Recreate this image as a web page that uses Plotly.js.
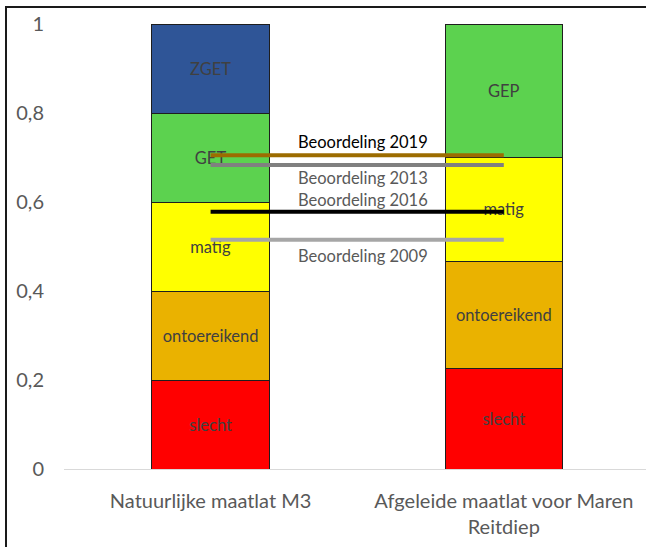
<!DOCTYPE html>
<html>
<head>
<meta charset="utf-8">
<script src="https://cdn.plot.ly/plotly-3.0.1.min.js"></script>
<style>html,body{margin:0;padding:0;background:#fff;}#chart{width:646px;height:547px;}</style>
</head>
<body>
<div id="chart"></div>
<script>
// Categories (x axis)
const categories = ["Natuurlijke maatlat M3", "Afgeleide maatlat voor Maren<br>Reitdiep"];

// Stacked class widths per category
const slecht       = [0.20, 0.225];
const ontoereikend = [0.20, 0.242];
const matig        = [0.20, 0.233];
const GET          = [0.20, null];
const ZGET         = [0.20, null];
const GEP          = [null, 0.30];

// Assessment lines
const beoordelingNamen  = ["Beoordeling 2019", "Beoordeling 2013", "Beoordeling 2016", "Beoordeling 2009"];
const beoordelingWaarden = [0.705, 0.683, 0.578, 0.515];

// Y tick values
const yTicks = [0, 0.2, 0.4, 0.6, 0.8, 1];

const FONT = "Lato, 'Open Sans', sans-serif";
const segFont = {family: FONT, size: 16.5, color: "#404040"};
const outline = {color: "#1e1e1e", width: 1};

function segText(vals, label) { return vals.map(v => v == null ? "" : label); }

const classes = [
  {name: "slecht", vals: slecht, color: "#FF0000"},
  {name: "ontoereikend", vals: ontoereikend, color: "#EAB200"},
  {name: "matig", vals: matig, color: "#FFFF00"},
  {name: "GET", vals: GET, color: "#5CD24F"},
  {name: "ZGET", vals: ZGET, color: "#2F5597"},
  {name: "GEP", vals: GEP, color: "#5CD24F"}
];

const traces = classes.map(c => ({
  type: "bar",
  x: categories,
  y: c.vals,
  name: c.name,
  text: segText(c.vals, c.name),
  textposition: "inside",
  insidetextanchor: "middle",
  textangle: 0,
  constraintext: "none",
  textfont: segFont,
  marker: {color: c.color, line: outline},
  hoverinfo: "skip"
}));

const lineColors = ["#9C6C00", "#808080", "#000000", "#A6A6A6"];
const labelColors = ["#000000", "#595959", "#595959", "#595959"];
const labelShift = [13, -13, 12, -16];

beoordelingNamen.forEach((n, i) => {
  traces.push({
    type: "scatter",
    mode: "lines",
    x: categories,
    y: [beoordelingWaarden[i], beoordelingWaarden[i]],
    name: n,
    line: {color: lineColors[i], width: 4},
    hoverinfo: "skip"
  });
});

const annotations = beoordelingNamen.map((n, i) => ({
  xref: "x", yref: "y",
  x: 0.52, y: beoordelingWaarden[i],
  yshift: labelShift[i],
  text: n,
  showarrow: false,
  font: {family: FONT, size: 16.5, color: labelColors[i]}
}));

const layout = {
  width: 646, height: 547,
  margin: {l: 64, r: 0, t: 24, b: 78},
  paper_bgcolor: "#ffffff",
  plot_bgcolor: "#ffffff",
  showlegend: false,
  barmode: "stack",
  bargap: 0.6,
  separators: ",.",
  xaxis: {
    type: "category",
    range: [-0.5, 1.485],
    showline: true, linecolor: "#D9D9D9", linewidth: 1,
    showgrid: false, zeroline: false, ticks: "",
    ticklabelstandoff: 14,
    tickfont: {family: FONT, size: 20, color: "#595959"}
  },
  yaxis: {
    range: [0, 1],
    tickvals: yTicks,
    showline: false, showgrid: false, zeroline: false, ticks: "",
    ticklabelstandoff: 19,
    tickfont: {family: FONT, size: 20, color: "#595959"}
  },
  annotations: annotations,
  shapes: [{
    type: "rect", xref: "paper", yref: "paper",
    x0: (6 - 64) / 582, x1: 1.05,
    y0: -0.25, y1: (469 - 7) / 445,
    line: {color: "#1a1a1a", width: 2},
    fillcolor: "rgba(0,0,0,0)",
    layer: "above"
  }]
};

Plotly.newPlot("chart", traces, layout, {displayModeBar: false, staticPlot: true});
</script>
</body>
</html>
